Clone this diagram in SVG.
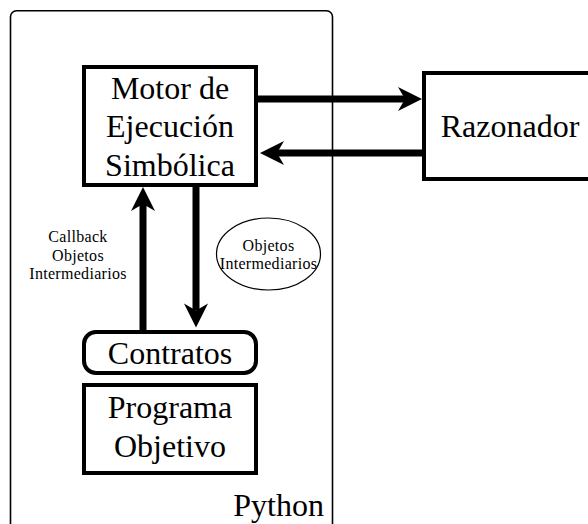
<svg xmlns="http://www.w3.org/2000/svg" width="588" height="524" viewBox="0 0 588 524">
<style>
.box{fill:#fff;stroke:#000;stroke-width:4}
.big{font-family:"Liberation Serif",serif;font-size:32px;fill:#000;text-anchor:middle}
.small{font-family:"Liberation Serif",serif;font-size:16px;letter-spacing:0.3px;fill:#000;text-anchor:middle}
.arr{stroke:#000;stroke-width:7;fill:none;marker-end:url(#ah)}
</style>
<defs>
<marker id="ah" markerUnits="userSpaceOnUse" viewBox="-26 -13 28 26" refX="-17" refY="0" markerWidth="28" markerHeight="26" orient="auto">
<path d="M0,0 L-24,-12 L-17,0 L-24,12 Z" fill="#000"/>
</marker>
</defs>
<g id="python">
<rect x="10.5" y="10.7" width="322" height="530" rx="6" fill="#fff" stroke="#000" stroke-width="1.6"/>
<text class="big" x="324" y="516" style="text-anchor:end">Python</text>
</g>
<g id="motor">
<rect class="box" x="84" y="67" width="172" height="118"/>
<text class="big" x="170" y="98.5">Motor de</text>
<text class="big" x="170" y="137">Ejecución</text>
<text class="big" x="170" y="175.5">Simbólica</text>
</g>
<g id="razonador">
<rect class="box" x="424" y="73" width="180" height="106"/>
<text class="big" x="510" y="137">Razonador</text>
</g>
<g id="contratos">
<rect class="box" x="84" y="332" width="172" height="41" rx="12"/>
<text class="big" x="170" y="364.3">Contratos</text>
</g>
<g id="programa">
<rect class="box" x="84" y="385" width="172" height="88"/>
<text class="big" x="170" y="417.8">Programa</text>
<text class="big" x="170" y="457">Objetivo</text>
</g>
<g id="objetos">
<ellipse cx="268.5" cy="254" rx="52" ry="36" fill="#fff" stroke="#000" stroke-width="1.2"/>
<text class="small" x="268.5" y="251.3">Objetos</text>
<text class="small" x="268.5" y="269">Intermediarios</text>
</g>
<g id="callback-label">
<text class="small" x="78" y="241.5">Callback</text>
<text class="small" x="78" y="260.5">Objetos</text>
<text class="small" x="78" y="279">Intermediarios</text>
</g>
<g id="connectors">
<line class="arr" x1="256" y1="99" x2="405" y2="99"/>
<line class="arr" x1="424" y1="153" x2="277" y2="153"/>
<line class="arr" x1="143" y1="332" x2="143" y2="204"/>
<line class="arr" x1="196" y1="185" x2="196" y2="310.5"/>
</g>
</svg>
